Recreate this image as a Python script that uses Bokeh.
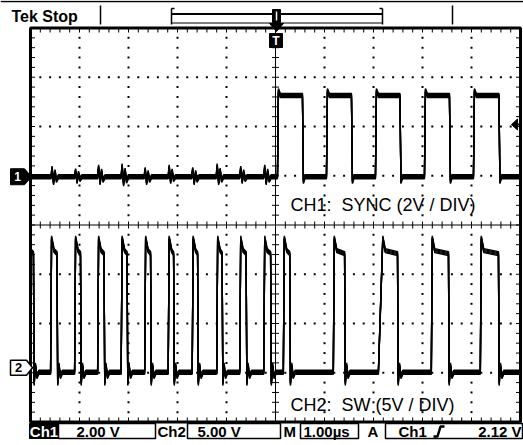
import numpy as np
from bokeh.plotting import figure
from bokeh.models import Range1d
from bokeh.embed import file_html
from bokeh.resources import INLINE
from bokeh.core.properties import value

# ------------------------------------------------------------------ data ---
ch1_name = "CH1:\u00a0 SYNC (2V / DIV)"
ch2_name = "CH2:\u00a0 SW (5V / DIV)"
ch1_scale_label = "2.00 V"
ch2_scale_label = "5.00 V"
h_scale_label = "1.00\u00b5s"
trig_label = "2.12 V"

us_per_div = 1.0
ch1_v_per_div = 2.0
ch2_v_per_div = 5.0
ch1_offset_div = 0.98
ch2_offset_div = -2.90
trigger_level_v = 2.12

# CH1 : SYNC (edges in microseconds, levels in volts)
sync_rise_us = [0.04, 1.04, 2.04, 3.04, 4.04]
sync_fall_us = [0.55, 1.55, 2.54, 3.55, 4.56]
sync_high_v = 3.3
sync_low_v = 0.0
sync_overshoot_v = 3.5
ch1_glitch_us = [-4.55, -4.07, -3.60, -3.12, -2.65, -2.16, -1.68, -1.18, -0.70, -0.21]
ch1_glitch_up_v = [0.35, 0.25, 0.40, 0.45, 0.30, 0.40, 0.30, 0.45, 0.35, 0.40]
ch1_glitch_dn_v = [-0.25, -0.20, -0.25, -0.30, -0.25, -0.20, -0.25, -0.25, -0.20, -0.25]

# CH2 : SW node
sw_rise_us = [-4.59, -4.10, -3.63, -3.15, -2.67, -2.19, -1.70, -1.20, -0.73, -0.24,
              0.16, 1.18, 2.10, 3.18, 4.18]
sw_rise_time_us = [0.02, 0.02, 0.02, 0.02, 0.02, 0.02, 0.02, 0.02, 0.02, 0.02,
                   0.02, 0.02, 0.09, 0.02, 0.02]
sw_fall_us = [-4.94, -4.46, -3.98, -3.50, -3.03, -2.55, -2.08, -1.59, -1.09, -0.60,
              -0.10, 0.29, 1.41, 2.49, 3.53, 4.55]
sw_high_v = 11.9
sw_peak_v = 13.2
sw_low_v = -0.45
sw_ring_dt_us = [0.015, 0.04, 0.07, 0.11]
sw_ring_v = [-1.6, 0.3, -0.9, -0.45]

# ------------------------------------------------------------- geometry ---
W, H = 523, 445
X0, XD = 275.0, 49.0      # pixel of centre, pixels per division
Y0, YD = 224.5, 49.25


def dx(px):
    return (px - X0) / XD


def dy(py):
    return (Y0 - py) / YD


BLACK = "black"
FONT = value("Liberation Sans")

p = figure(width=W, height=H, x_range=Range1d(dx(0), dx(W)), y_range=Range1d(dy(H), dy(0)),
           output_backend="svg", toolbar_location=None, tools="", min_border=0,
           x_axis_location=None, y_axis_location=None)
p.grid.visible = False
p.outline_line_color = None
p.background_fill_color = "white"
p.border_fill_color = "white"

# ------------------------------------------------------------ graticule ---
dots_x, dots_y = [], []
hx = [-5 + 0.2 * k for k in range(1, 50)]
for gy in [-3, -2, -1, 1, 2, 3]:
    for x in hx:
        if abs(x) > 1e-9:
            dots_x.append(x)
            dots_y.append(gy)
vy = [-4 + 0.2 * k for k in range(1, 40)]
for gx in [-4, -3, -2, -1, 1, 2, 3, 4]:
    for y in vy:
        if abs(y) > 1e-9 and min(abs(y - h) for h in [-3, -2, -1, 1, 2, 3]) > 1e-9:
            dots_x.append(gx)
            dots_y.append(y)
p.scatter(dots_x, dots_y, marker="square", size=2, fill_color=BLACK, line_color=None)

# centre cross
p.segment(x0=[-5, 0], y0=[0, -4], x1=[5, 0], y1=[0, 4], line_color=BLACK, line_width=1)
tx = [x for x in hx if abs(x) > 1e-9]
ty = [y for y in vy if abs(y) > 1e-9]
p.segment(x0=tx, y0=[-3.5 / YD] * len(tx), x1=tx, y1=[3.5 / YD] * len(tx), line_color=BLACK, line_width=1)
p.segment(x0=[-3.5 / XD] * len(ty), y0=ty, x1=[3.5 / XD] * len(ty), y1=ty, line_color=BLACK, line_width=1)

# border ticks
bt = 4.5
p.segment(x0=hx, y0=[4] * len(hx), x1=hx, y1=[4 - bt / YD] * len(hx), line_color=BLACK, line_width=1)
p.segment(x0=hx, y0=[-4] * len(hx), x1=hx, y1=[-4 + bt / YD] * len(hx), line_color=BLACK, line_width=1)
p.segment(x0=[-5] * len(vy), y0=vy, x1=[-5 + bt / XD] * len(vy), y1=vy, line_color=BLACK, line_width=1)
p.segment(x0=[5] * len(vy), y0=vy, x1=[5 - bt / XD] * len(vy), y1=vy, line_color=BLACK, line_width=1)

# ------------------------------------------------------------- traces ---
def build_sync():
    t, v = [-5.0], [sync_low_v]
    for g, up, dn in zip(ch1_glitch_us, ch1_glitch_up_v, ch1_glitch_dn_v):
        t += [g - 0.03, g - 0.01, g + 0.02, g + 0.05, g + 0.08, g + 0.12]
        v += [sync_low_v, up, dn, up * 0.6, dn * 0.6, sync_low_v]
    for r, f in zip(sync_rise_us, sync_fall_us):
        t += [r, r + 0.02, r + 0.06, f, f + 0.02, f + 0.05]
        v += [sync_low_v, sync_overshoot_v, sync_high_v, sync_high_v, -0.2, sync_low_v]
    t.append(5.0)
    v.append(sync_low_v)
    return np.array(t), np.array(v)


def build_sw():
    events = [(tr, "r", rt) for tr, rt in zip(sw_rise_us, sw_rise_time_us)]
    events += [(tf, "f", 0.0) for tf in sw_fall_us]
    events.sort()
    t, v = [-5.0], [sw_high_v]
    for te, kind, rt in events:
        if kind == "r":
            t += [te, te + rt, te + rt + 0.05]
            v += [sw_low_v, sw_peak_v, sw_high_v]
        else:
            t.append(te)
            v.append(sw_high_v - 0.3)
            for d, rv in zip(sw_ring_dt_us, sw_ring_v):
                t.append(te + d)
                v.append(rv)
    t.append(5.0)
    v.append(v[-1])
    return np.array(t), np.array(v)


t1, v1 = build_sync()
t2, v2 = build_sw()
x1 = t1 / us_per_div
y1 = v1 / ch1_v_per_div + ch1_offset_div
x2 = t2 / us_per_div
y2 = v2 / ch2_v_per_div + ch2_offset_div

for xs, ys in [(x1, y1), (x2, y2)]:
    for off_px in (-2.0, -1.0, 0.0, 1.0, 2.0):
        p.line(xs, ys + off_px / YD, line_color=BLACK, line_width=1.4)

# graticule frame
p.quad(left=-5, right=5, bottom=-4, top=4, fill_color=None, line_color=BLACK, line_width=3)

# --------------------------------------------------------- annotations ---
p.text(x=[dx(290)], y=[dy(204)], text=[ch1_name], text_font=FONT, text_font_size="18px",
       text_color=BLACK, text_baseline="alphabetic", text_align="left")
p.text(x=[dx(290)], y=[dy(404)], text=[ch2_name], text_font=FONT, text_font_size="18px",
       text_color=BLACK, text_baseline="alphabetic", text_align="left")

# channel ground markers
c1 = ch1_offset_div
p.patch([dx(10), dx(24), dx(31), dx(24), dx(10)],
        [c1 + 8 / YD, c1 + 8 / YD, c1, c1 - 8 / YD, c1 - 8 / YD], fill_color=BLACK, line_color=BLACK)
p.text(x=[dx(17)], y=[c1], text=["1"], text_font=FONT, text_font_style="bold", text_font_size="12px",
       text_color="white", text_align="center", text_baseline="middle")
c2 = ch2_offset_div
p.patch([dx(10), dx(26), dx(32), dx(26), dx(10)],
        [c2 + 7.5 / YD, c2 + 7.5 / YD, c2, c2 - 7.5 / YD, c2 - 7.5 / YD],
        fill_color="white", line_color=BLACK, line_width=1.5)
p.text(x=[dx(18)], y=[c2], text=["2"], text_font=FONT, text_font_style="bold", text_font_size="13px",
       text_color=BLACK, text_align="center", text_baseline="middle")

# trigger level arrow (right edge)
tl = ch1_offset_div + trigger_level_v / ch1_v_per_div
p.patch([dx(511), dx(517), dx(517)], [tl, tl + 5.5 / YD, tl - 5.5 / YD], fill_color=BLACK, line_color=BLACK)
p.segment(x0=[dx(516)], y0=[tl], x1=[5], y1=[tl], line_color=BLACK, line_width=2)

# trigger position marker under the top border
p.quad(left=[dx(269)], right=[dx(282)], top=[dy(33)], bottom=[dy(47)], fill_color=BLACK, line_color=BLACK)
p.text(x=[dx(275.5)], y=[dy(40.5)], text=["T"], text_font=FONT, text_font_style="bold",
       text_font_size="12px", text_color="white", text_align="center", text_baseline="middle")

# ------------------------------------------------------------- top bar ---
p.segment(x0=[dx(0)], y0=[dy(1)], x1=[dx(W)], y1=[dy(1)], line_color=BLACK, line_width=1.5)
p.text(x=[dx(11)], y=[dy(16)], text=["Tek Stop"], text_font=FONT, text_font_style="bold",
       text_font_size="16px", text_color=BLACK, text_align="left", text_baseline="middle")
p.segment(x0=[dx(100), dx(452)], y0=[dy(5), dy(5)], x1=[dx(100), dx(452)], y1=[dy(24), dy(24)],
          line_color=BLACK, line_width=1.5)
# record bracket
p.segment(x0=[dx(171), dx(382), dx(171), dx(171), dx(171), dx(379)],
          y0=[dy(8), dy(8), dy(13.5), dy(22.5), dy(8), dy(8)],
          x1=[dx(171), dx(382), dx(382), dx(382), dx(174), dx(382)],
          y1=[dy(24), dy(24), dy(13.5), dy(22.5), dy(8), dy(8)],
          line_color=BLACK, line_width=[1.5, 1.5, 2, 1, 1.5, 1.5])
p.quad(left=[dx(272)], right=[dx(280)], top=[dy(9)], bottom=[dy(22)], fill_color=BLACK, line_color=BLACK)
p.segment(x0=[dx(276)], y0=[dy(11)], x1=[dx(276)], y1=[dy(20)], line_color="white", line_width=1.5)
p.patch([dx(269), dx(283), dx(276)], [dy(23), dy(23), dy(31)], fill_color=BLACK, line_color=BLACK)

# ---------------------------------------------------------- status bar ---
SY = dy(431)
p.quad(left=[dx(29)], right=[dx(58)], top=[dy(423)], bottom=[dy(438)], fill_color=BLACK, line_color=BLACK)
p.quad(left=[dx(58), dx(187), dx(300), dx(385)], right=[dx(155), dx(280), dx(358), dx(522)],
       top=[dy(423)] * 4, bottom=[dy(438)] * 4, fill_color=None, line_color=BLACK, line_width=1.5)
status = [
    (43.5, "Ch1", "center", "white"),
    (76, ch1_scale_label, "left", BLACK),
    (157, "Ch2", "left", BLACK),
    (197, ch2_scale_label, "left", BLACK),
    (283, "M", "left", BLACK),
    (303, h_scale_label, "left", BLACK),
    (367, "A", "left", BLACK),
    (398, "Ch1", "left", BLACK),
    (521, trig_label, "right", BLACK),
]
for px_, txt, al, col in status:
    p.text(x=[dx(px_)], y=[SY], text=[txt], text_font=FONT, text_font_style="bold", text_font_size="15px",
           text_color=col, text_align=al, text_baseline="middle")
# rising-edge symbol
p.line([dx(433), dx(437), dx(440), dx(444)], [dy(436), dy(436), dy(426), dy(426)],
       line_color=BLACK, line_width=2.5)

open("out.html", "w").write(file_html(p, INLINE))
